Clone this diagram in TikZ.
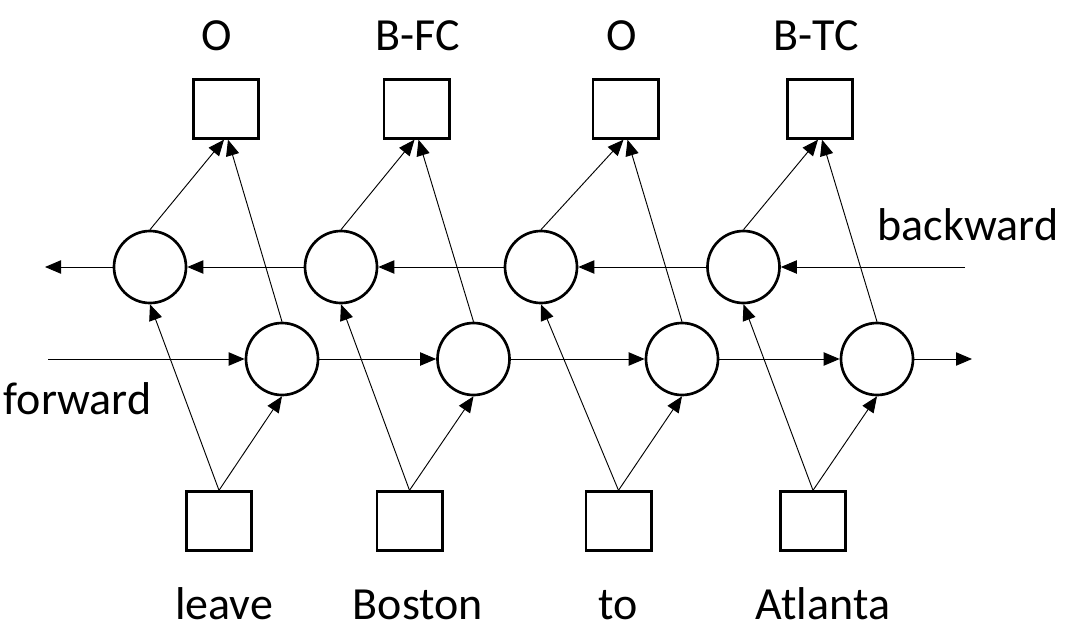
\documentclass[tikz,border=0pt]{standalone}
\usepackage{fontspec}
\setmainfont{Carlito}
\usetikzlibrary{arrows.meta,calc}
\begin{document}
\begin{tikzpicture}[x=0.75pt,y=-0.75pt,
  cell/.style={circle,draw,line width=2pt,minimum size=54pt,inner sep=0pt},
  tagbox/.style={rectangle,draw,line width=2pt,minimum width=49pt,minimum height=44pt,inner sep=0pt},
  lbl/.style={anchor=base,font=\fontsize{34.5}{40}\selectfont,inner sep=0pt},
  conn/.style={line width=0.7pt,-{Triangle[length=12pt,width=10pt]}}
]
\useasboundingbox (0,0) rectangle (1078,636);
% top boxes
\node[tagbox] (t1) at (226,109) {};
\node[tagbox] (t2) at (416.5,109) {};
\node[tagbox] (t3) at (625.5,109) {};
\node[tagbox] (t4) at (820,109) {};
% backward cells
\node[cell] (b1) at (150,267) {};
\node[cell] (b2) at (341,267) {};
\node[cell] (b3) at (541,267) {};
\node[cell] (b4) at (743.5,267) {};
% forward cells
\node[cell] (f1) at (282,359) {};
\node[cell] (f2) at (473.5,359) {};
\node[cell] (f3) at (682,359) {};
\node[cell] (f4) at (877,359) {};
% bottom boxes
\node[tagbox] (x1) at (219,521) {};
\node[tagbox] (x2) at (409.5,521) {};
\node[tagbox] (x3) at (618.5,521) {};
\node[tagbox] (x4) at (813,521) {};
% labels
\node[lbl] (l1) at (217,50) {O};
\node[lbl] (l2) at (417.5,50) {B-FC};
\node[lbl] (l3) at (622,50) {O};
\node[lbl] (l4) at (816,50) {B-TC};
\node[lbl] (w1) at (224,619) {leave};
\node[lbl] (w2) at (418,619) {Boston};
\node[lbl] (w3) at (618,619) {to};
\node[lbl] (w4) at (823,619) {Atlanta};
\node[lbl] (bw) at (968,240) {backward};
\node[lbl] (fw) at (77.5,414) {forward};
% free ends
\coordinate (bl) at (45,267);
\coordinate (br) at (965,267);
\coordinate (fl) at (48,359);
\coordinate (fr) at (972,359);
% backward chain
\draw[conn] (br) -- (b4);
\draw[conn] (b4) -- (b3);
\draw[conn] (b3) -- (b2);
\draw[conn] (b2) -- (b1);
\draw[conn] (b1) -- (bl);
% forward chain
\draw[conn] (fl) -- (f1);
\draw[conn] (f1) -- (f2);
\draw[conn] (f2) -- (f3);
\draw[conn] (f3) -- (f4);
\draw[conn] (f4) -- (fr);
% to outputs and from inputs
\foreach \i in {1,2,3,4}{
  \draw[conn] (b\i.north) -- ($(t\i.south)+(-2,0)$);
  \draw[conn] (f\i.north) -- ($(t\i.south)+(2,0)$);
  \draw[conn] (x\i.north) -- (b\i.south);
  \draw[conn] (x\i.north) -- (f\i.south);
}
\end{tikzpicture}
\end{document}
